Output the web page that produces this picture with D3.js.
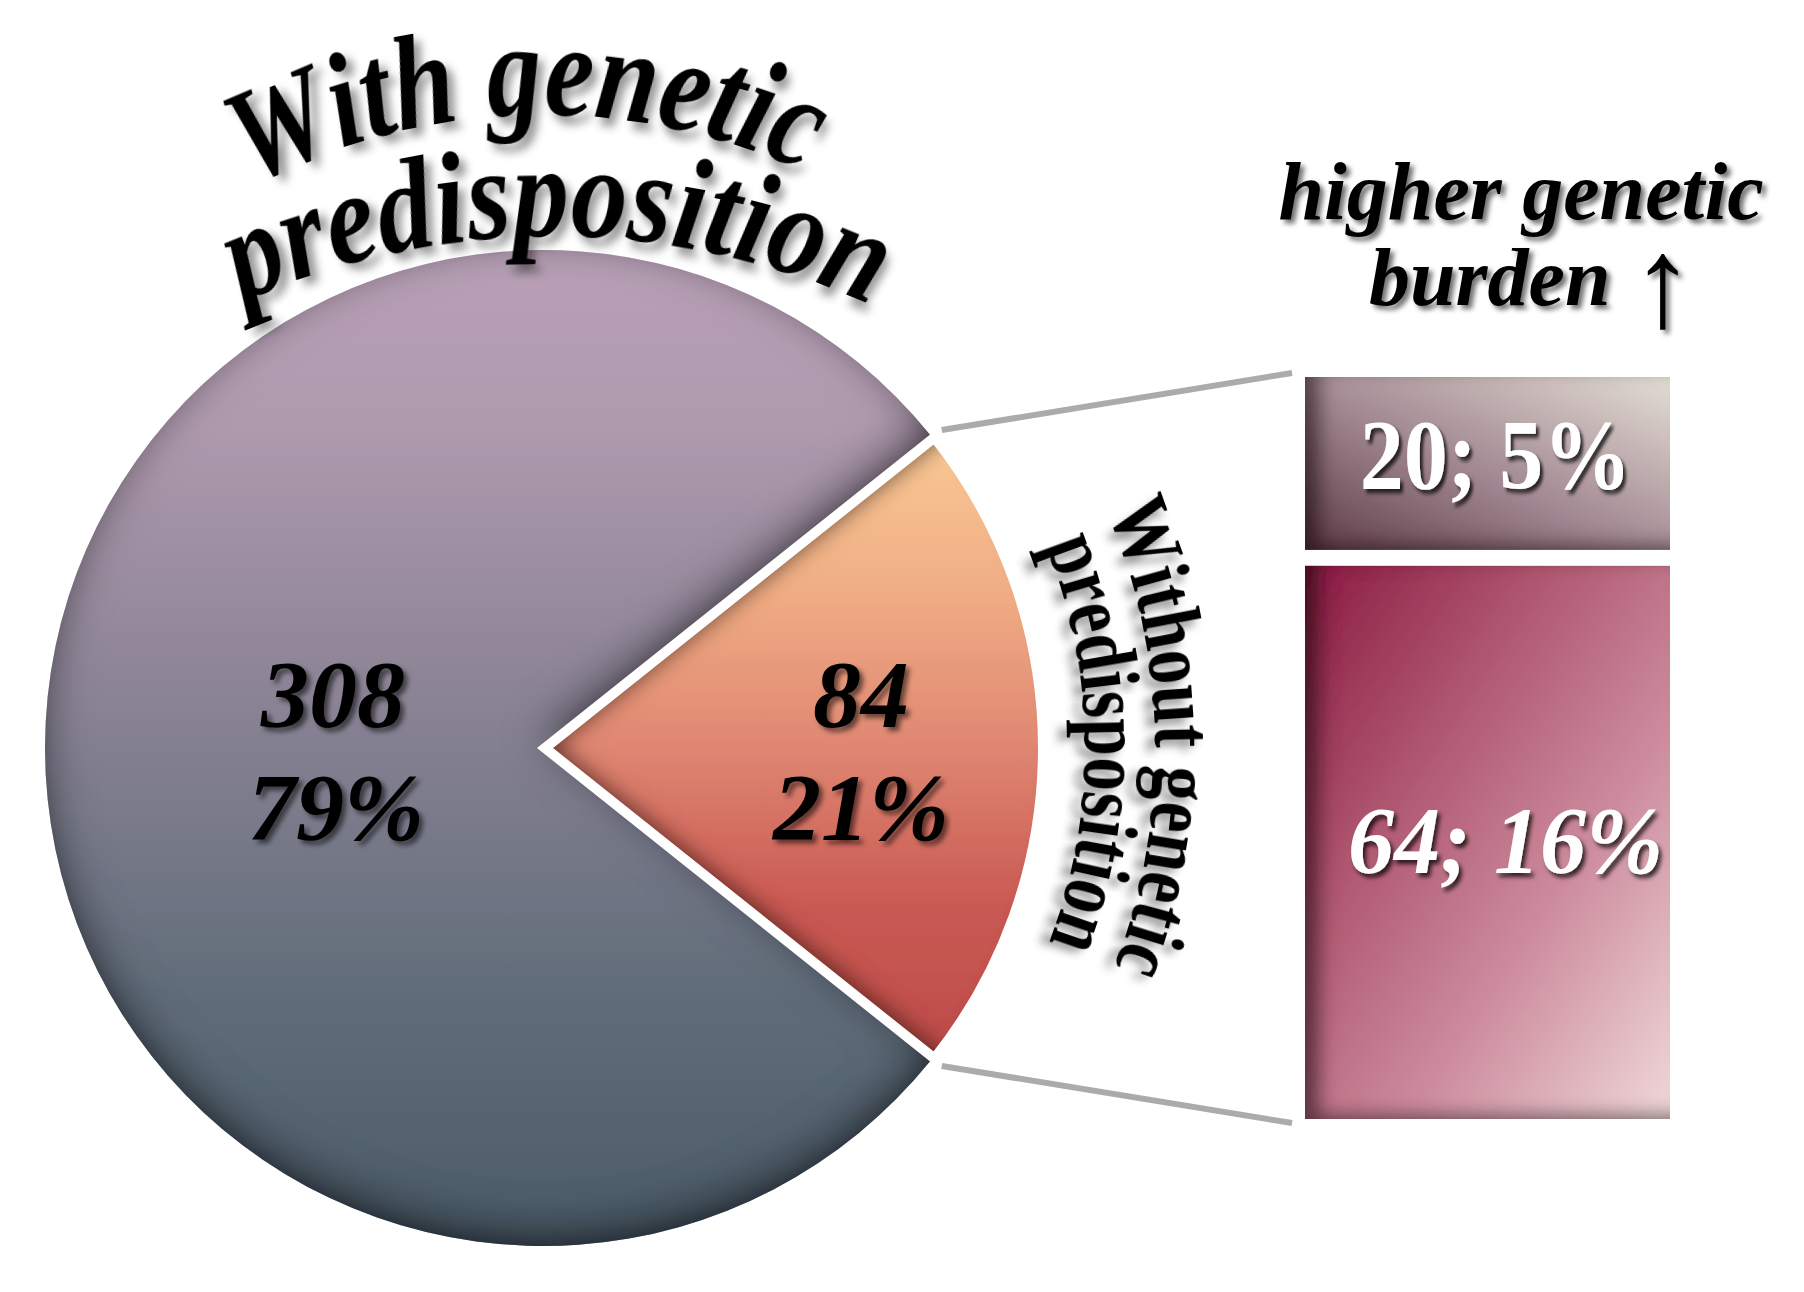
<!DOCTYPE html>
<html><head><meta charset="utf-8">
<script src="https://cdn.jsdelivr.net/npm/d3@7"></script>
<style>html,body{margin:0;padding:0;background:#fff;} svg{display:block;}</style>
</head><body>
<svg id="chart" width="1804" height="1292"></svg>
<script>
// ---------------- data ----------------
const categories = ["Without genetic predisposition", "With genetic predisposition"];
const counts = [84, 308];
const percentLabels = ["21%", "79%"];
const categoryLabelLines = [["Without genetic", "predisposition"], ["With genetic", "predisposition"]];
const subCounts = [20, 64];
const subPercentLabels = ["5%", "16%"];
const subTitleLines = ["higher genetic", "burden"];
const subTitleArrow = "\u2191";

// ---------------- layout ----------------
const FONT = "'Liberation Serif','Times New Roman',Times,serif";
const svg = d3.select("#chart");
const defs = svg.append("defs");
const cx = 543, cy = 748, R = 498;

function linGrad(id, x1, y1, x2, y2, stops) {
  const g = defs.append("linearGradient").attr("id", id)
    .attr("x1", x1).attr("y1", y1).attr("x2", x2).attr("y2", y2);
  stops.forEach(s => g.append("stop").attr("offset", s[0]).attr("stop-color", s[1]));
}
linGrad("gGray", 0, 0, 0, 1, [[0, "#b9a1b7"], [0.18, "#ae99ad"], [0.4, "#918799"], [0.55, "#7c7c8c"], [0.75, "#606c79"], [1, "#4b5b67"]]);
linGrad("gOrange", 0, 0, 0, 1, [[0, "#f9c894"], [0.25, "#f0ad84"], [0.5, "#df8672"], [0.75, "#c95a53"], [1, "#bd4b4a"]]);
linGrad("gTop", 0, 1, 1, 0, [[0, "#5c3c47"], [0.45, "#a08690"], [1, "#e4ded4"]]);
linGrad("gBot", 0, 0, 1, 1, [[0, "#8a1b42"], [0.35, "#b15a73"], [0.65, "#cd8d9e"], [1, "#efd8da"]]);

function insetFilter(id, dx, dy, std, color, opacity) {
  const f = defs.append("filter").attr("id", id)
    .attr("x", "-10%").attr("y", "-10%").attr("width", "120%").attr("height", "120%");
  f.append("feOffset").attr("in", "SourceAlpha").attr("dx", dx).attr("dy", dy).attr("result", "off");
  f.append("feGaussianBlur").attr("in", "off").attr("stdDeviation", std).attr("result", "blur");
  f.append("feComposite").attr("in", "SourceAlpha").attr("in2", "blur").attr("operator", "out").attr("result", "edge");
  f.append("feFlood").attr("flood-color", color).attr("flood-opacity", opacity).attr("result", "col");
  f.append("feComposite").attr("in", "col").attr("in2", "edge").attr("operator", "in").attr("result", "shadow");
  const m = f.append("feMerge");
  m.append("feMergeNode").attr("in", "SourceGraphic");
  m.append("feMergeNode").attr("in", "shadow");
}
insetFilter("inGray", 0, -12, 22, "#12151b", 1);
insetFilter("inOrange", 16, -2, 10, "#4a1e18", 0.85);
insetFilter("inBox", 16, -6, 9, "#2a1018", 0.8);

function dropFilter(id, dx, dy, std, color, opacity) {
  const f = defs.append("filter").attr("id", id)
    .attr("x", "-40%").attr("y", "-40%").attr("width", "180%").attr("height", "180%");
  f.append("feGaussianBlur").attr("in", "SourceAlpha").attr("stdDeviation", std).attr("result", "b");
  f.append("feOffset").attr("in", "b").attr("dx", dx).attr("dy", dy).attr("result", "o");
  f.append("feFlood").attr("flood-color", color).attr("flood-opacity", opacity).attr("result", "c");
  f.append("feComposite").attr("in", "c").attr("in2", "o").attr("operator", "in").attr("result", "s");
  const m = f.append("feMerge");
  m.append("feMergeNode").attr("in", "s");
  m.append("feMergeNode").attr("in", "SourceGraphic");
}
dropFilter("dsBig", 7, 8, 5, "#000", 0.4);
dropFilter("dsNum", 4, 4, 2.5, "#000", 0.55);
dropFilter("dsWhite", 3, 4, 2, "#000", 0.75);

// ---------------- pie ----------------
const total = d3.sum(counts);
const a0 = Math.PI / 2 - Math.PI * counts[0] / total;
const pie = d3.pie().sort(null).value(d => d).startAngle(a0).endAngle(a0 + 2 * Math.PI);
const arcs = pie(counts);
const arcGen = d3.arc().innerRadius(0).outerRadius(R)
  .padAngle(d => d.index === 1 ? 0.012 : 0);
const explode = 2;

const gPie = svg.append("g").attr("transform", `translate(${cx},${cy})`);
gPie.append("path").datum(arcs[1]).attr("d", arcGen)
  .attr("fill", "url(#gGray)").attr("filter", "url(#inGray)");
const mid0 = (arcs[0].startAngle + arcs[0].endAngle) / 2;
const gSl = gPie.append("g")
  .attr("transform", `translate(${explode * Math.sin(mid0)},${-explode * Math.cos(mid0)})`);
gSl.append("path").datum(arcs[0]).attr("d", arcGen)
  .attr("fill", "url(#gOrange)").attr("filter", "url(#inOrange)");
gSl.append("path").datum(arcs[0]).attr("d", arcGen)
  .attr("fill", "none").attr("stroke", "#fff").attr("stroke-width", 10).attr("stroke-linejoin", "miter");

// value labels inside slices
const valLabelPos = [[318, 0], [-210, 0]];
[0, 1].forEach(i => {
  const t = gPie.append("text")
    .attr("font-family", FONT).attr("font-weight", "bold").attr("font-style", "italic")
    .attr("font-size", 96).attr("text-anchor", "middle").attr("fill", "#000")
    .attr("filter", "url(#dsNum)");
  t.append("tspan").attr("x", valLabelPos[i][0]).attr("y", -21).text(counts[i]);
  t.append("tspan").attr("x", valLabelPos[i][0] + (i === 1 ? 3 : 0)).attr("y", 92).text(percentLabels[i]);
});

// ---------------- curved category labels ----------------
function arcText(str, o) {
  const ox = o.ox !== undefined ? o.ox : cx, oy = o.oy !== undefined ? o.oy : cy;
  const meas = svg.append("text").attr("font-family", FONT).attr("font-size", o.size)
    .attr("font-style", o.style).attr("font-weight", o.weight).attr("visibility", "hidden");
  const widths = Array.from(str).map(ch => {
    meas.text(ch === " " ? "\u00a0" : ch);
    return meas.node().getComputedTextLength();
  });
  meas.remove();
  const tot = d3.sum(widths) * o.sx;
  const start = o.center - (tot / 2) / o.r * 180 / Math.PI;
  let cum = 0;
  const g = svg.append("g");
  Array.from(str).forEach((ch, i) => {
    const w = widths[i] * o.sx;
    const ang = start + (cum + w / 2) / o.r * 180 / Math.PI;
    cum += w;
    if (ch === " ") return;
    const rad = ang * Math.PI / 180;
    const x = ox + o.r * Math.sin(rad), y = oy - o.r * Math.cos(rad);
    g.append("text")
      .attr("transform", `translate(${x},${y}) rotate(${ang}) scale(${o.sx},1)`)
      .attr("text-anchor", "middle")
      .attr("font-family", FONT).attr("font-size", o.size)
      .attr("font-style", o.style).attr("font-weight", o.weight)
      .attr("fill", "#000").attr("filter", "url(#dsBig)")
      .text(ch);
  });
}
// with genetic predisposition (top)
arcText(categoryLabelLines[1][0], {r: 633, center: -1.5, size: 134, sx: 0.825, style: "italic", weight: "bold"});
arcText(categoryLabelLines[1][1], {ox: 553, oy: 1000, r: 764, center: 0.3, size: 132, sx: 0.85, style: "italic", weight: "bold"});
// without genetic predisposition (right)
arcText(categoryLabelLines[0][0], {r: 612, center: 89, size: 84, sx: 0.82, style: "normal", weight: "bold"});
arcText(categoryLabelLines[0][1], {r: 542, center: 89.5, size: 84, sx: 0.8, style: "normal", weight: "bold"});

// ---------------- breakdown boxes ----------------
const boxX0 = 1305, boxX1 = 1670, boxTop = 377, boxBottom = 1119, boxGap = 16;
const yScale = d3.scaleLinear().domain([0, d3.sum(subCounts)])
  .range([0, boxBottom - boxTop - boxGap * (subCounts.length - 1)]);
const cums = d3.cumsum([0].concat(subCounts));
const boxFills = ["url(#gTop)", "url(#gBot)"];
const boxes = subCounts.map((v, i) => ({
  v, i, y: boxTop + yScale(cums[i]) + i * boxGap, h: yScale(v)
}));
svg.append("g").selectAll("rect").data(boxes).join("rect")
  .attr("x", boxX0).attr("width", boxX1 - boxX0)
  .attr("y", d => d.y).attr("height", d => d.h)
  .attr("fill", d => boxFills[d.i]).attr("filter", "url(#inBox)");

const boxLabelStyle = [{style: "normal", sx: 0.88, size: 100, dx: 8, dy: 25}, {style: "italic", sx: 0.97, size: 95, dx: 18, dy: 31}];
boxes.forEach(d => {
  const s = boxLabelStyle[d.i];
  const xc = (boxX0 + boxX1) / 2 + s.dx, yc = d.y + d.h / 2 + s.dy;
  svg.append("text")
    .attr("transform", `translate(${xc},${yc}) scale(${s.sx},1)`)
    .attr("text-anchor", "middle")
    .attr("font-family", FONT).attr("font-size", s.size).attr("font-weight", "bold").attr("font-style", s.style)
    .attr("fill", "#fff").attr("filter", "url(#dsWhite)")
    .text(`${d.v}; ${subPercentLabels[d.i]}`);
});

// connector lines from the slice edges to the boxes
const connR = R + 12;
const lineData = [
  [[cx + connR * Math.sin(arcs[0].startAngle), cy - connR * Math.cos(arcs[0].startAngle)], [boxX0 - 13, boxTop - 4]],
  [[cx + connR * Math.sin(arcs[0].endAngle), cy - connR * Math.cos(arcs[0].endAngle)], [boxX0 - 13, boxBottom + 4]]
];
svg.selectAll("line.conn").data(lineData).join("line").attr("class", "conn")
  .attr("x1", d => d[0][0]).attr("y1", d => d[0][1])
  .attr("x2", d => d[1][0]).attr("y2", d => d[1][1])
  .attr("stroke", "#ababab").attr("stroke-width", 6);

// title above boxes
const tt = svg.append("text").attr("filter", "url(#dsNum)")
  .attr("font-family", FONT).attr("font-size", 82).attr("font-weight", "bold").attr("font-style", "italic")
  .attr("fill", "#000");
tt.append("tspan").attr("x", 1521).attr("y", 219).attr("text-anchor", "middle").text(subTitleLines[0]);
tt.append("tspan").attr("x", 1369).attr("y", 305).attr("text-anchor", "start").text(subTitleLines[1] + " ");
tt.append("tspan").attr("font-weight", "normal").attr("font-style", "normal").attr("font-size", 128)
  .attr("dy", 21).text(subTitleArrow);
</script>
</body></html>
